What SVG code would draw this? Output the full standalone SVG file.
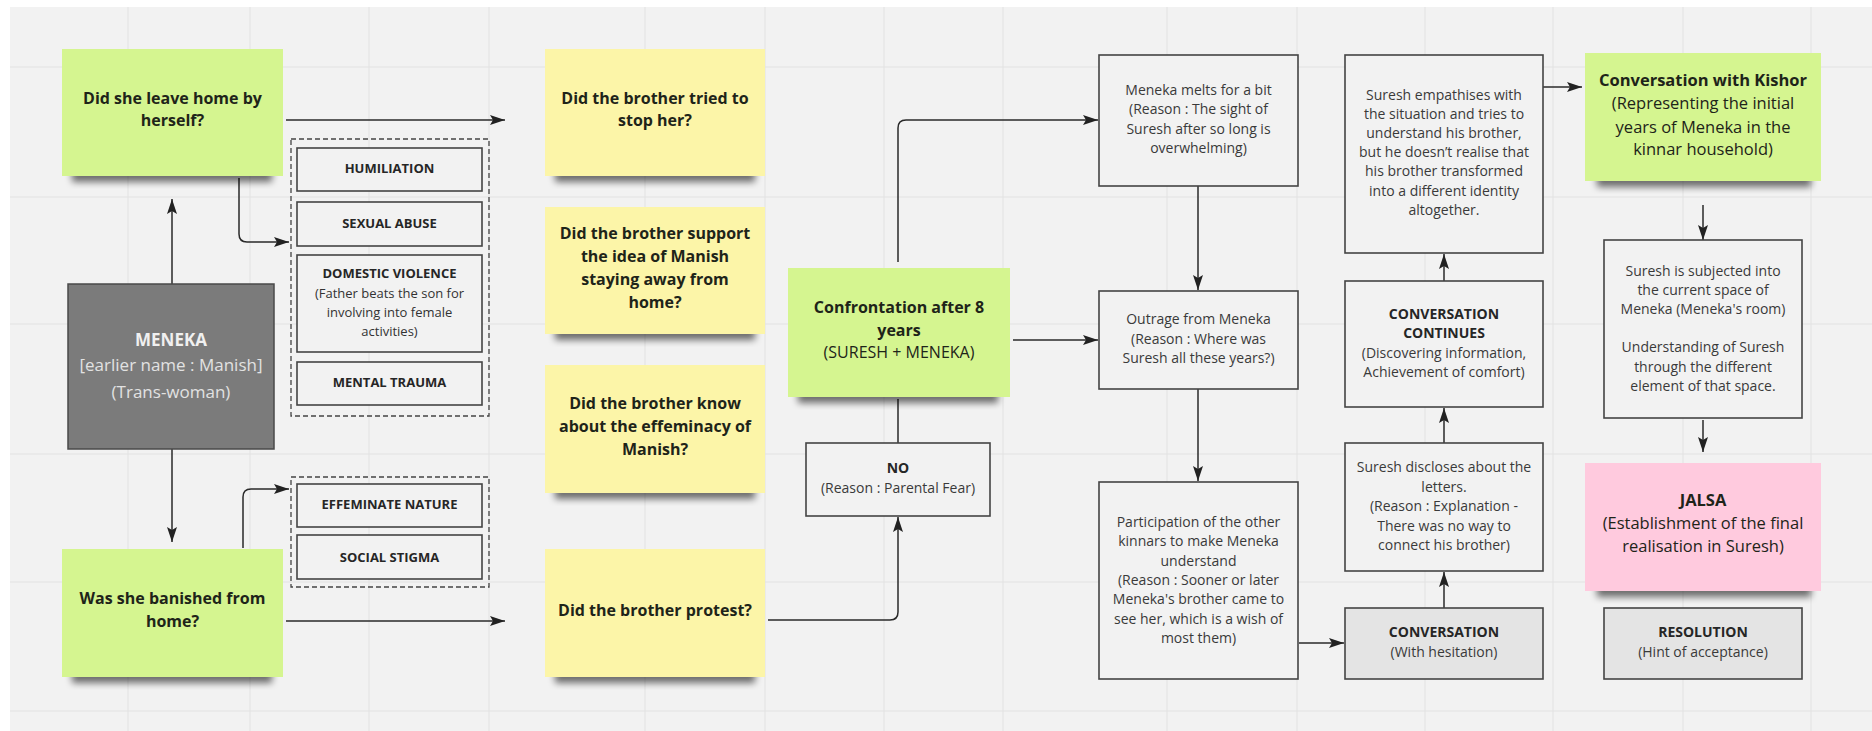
<svg xmlns="http://www.w3.org/2000/svg" width="1872" height="731" viewBox="0 0 1872 731">
<defs>
<marker id="ah" markerUnits="userSpaceOnUse" markerWidth="16" markerHeight="10" refX="15" refY="5" orient="auto">
<path d="M0,0 L15,5 L0,10 L3,5 Z" fill="#222"/>
</marker>
<filter id="sh" x="-20%" y="-50%" width="140%" height="200%">
<feGaussianBlur stdDeviation="3.5"/>
</filter>
<style>
.bg{fill:#f2f2f2}
.grid{stroke:#e2e2e2;stroke-width:1}
.shadow{fill:#000;opacity:0.55;filter:url(#sh)}
.green{fill:#d5f590}
.yellow{fill:#fcf5a8}
.pink{fill:#ffcade}
.box{fill:#f2f2f2;stroke:#444;stroke-width:1.6}
.gbox{fill:#e4e4e4;stroke:#444;stroke-width:1.6}
.dash{fill:none;stroke:#444;stroke-width:1.3;stroke-dasharray:5,3}
.dark{fill:#7b7b7b;stroke:#4a4a4a;stroke-width:1.5}
text{font-family:"Open Sans","Noto Sans","Liberation Sans",sans-serif;text-anchor:middle}
.st{font-size:16px;font-weight:bold;fill:#1e2419}
.sk{font-size:16.5px;font-weight:bold;fill:#1e2419}
.skr{font-size:16.5px;fill:#1e2419}
.str{font-size:16px;fill:#1e2419}
.lt{font-size:13px;fill:#333}
.lb{font-size:13px;font-weight:bold;fill:#262626}
.bt{font-size:14px;fill:#3a3a3a}
.bb{font-size:14px;font-weight:bold;fill:#262626}
.mk{font-size:17px;fill:#e2e2e2}
.mkb{font-size:17px;font-weight:bold;fill:#f0f0f0}
.cn{fill:none;stroke:#2a2a2a;stroke-width:1.5}
</style>
</defs>
<rect width="1872" height="731" fill="#ffffff"/>
<rect class="bg" x="10" y="7" width="1862" height="724"/>
<g id="grid">
<path class="grid" d="M128,7V731M250,7V731M369,7V731M489,7V731M645,7V731M765,7V731M884,7V731M1003,7V731M1167,7V731M1297,7V731M1425,7V731M1553,7V731M1683,7V731M1811,7V731"/>
<path class="grid" d="M10,67H1872M10,197H1872M10,324H1872M10,454H1872M10,582H1872M10,711H1872"/>
</g>

<g id="connectors">
<path class="cn" d="M286,120H505" marker-end="url(#ah)"/>
<path class="cn" d="M239,178V234Q239,242 247,242H289" marker-end="url(#ah)"/>
<path class="cn" d="M172,284V199" marker-end="url(#ah)"/>
<path class="cn" d="M172,449V542" marker-end="url(#ah)"/>
<path class="cn" d="M243,548V497Q243,489 251,489H289" marker-end="url(#ah)"/>
<path class="cn" d="M286,621H505" marker-end="url(#ah)"/>
<path class="cn" d="M898,262V128Q898,120 906,120H1098" marker-end="url(#ah)"/>
<path class="cn" d="M1013,340H1098" marker-end="url(#ah)"/>
<path class="cn" d="M898,399V443"/>
<path class="cn" d="M768,620H890Q898,620 898,612V517" marker-end="url(#ah)"/>
<path class="cn" d="M1198,186V290" marker-end="url(#ah)"/>
<path class="cn" d="M1198,389V481" marker-end="url(#ah)"/>
<path class="cn" d="M1299,643H1344" marker-end="url(#ah)"/>
<path class="cn" d="M1444,608V572" marker-end="url(#ah)"/>
<path class="cn" d="M1444,443V408" marker-end="url(#ah)"/>
<path class="cn" d="M1444,281V254" marker-end="url(#ah)"/>
<path class="cn" d="M1543,87H1582" marker-end="url(#ah)"/>
<path class="cn" d="M1703,205V240" marker-end="url(#ah)"/>
<path class="cn" d="M1703,420V452" marker-end="url(#ah)"/>
</g>

<g id="n-leave">
<rect class="shadow" x="72" y="168" width="200" height="14"/>
<rect class="green" x="62" y="49" width="221" height="127"/>
<text class="st" x="172.5" y="103.5">Did she leave home by</text>
<text class="st" x="172.5" y="125.5">herself?</text>
</g>
<g id="n-meneka">
<rect class="dark" x="68" y="284" width="206" height="165"/>
<text class="mkb" x="171" y="346">MENEKA</text>
<text class="mk" x="171" y="371">[earlier name : Manish]</text>
<text class="mk" x="171" y="398">(Trans-woman)</text>
</g>
<g id="n-banished">
<rect class="shadow" x="72" y="669" width="200" height="14"/>
<rect class="green" x="62" y="549" width="221" height="128"/>
<text class="st" x="172.5" y="603.5">Was she banished from</text>
<text class="st" x="172.5" y="626.5">home?</text>
</g>
<g id="n-reasons1">
<rect class="dash" x="291" y="139" width="198" height="277"/>
<rect class="box" x="297" y="148" width="185" height="43"/>
<text class="lb" x="389.5" y="172.5">HUMILIATION</text>
<rect class="box" x="297" y="202" width="185" height="44"/>
<text class="lb" x="389.5" y="227.5">SEXUAL ABUSE</text>
<rect class="box" x="297" y="255" width="185" height="97"/>
<text class="lb" x="389.5" y="277.5">DOMESTIC VIOLENCE</text>
<text class="lt" x="389.5" y="297.5">(Father beats the son for</text>
<text class="lt" x="389.5" y="316.5">involving into female</text>
<text class="lt" x="389.5" y="335.5">activities)</text>
<rect class="box" x="297" y="362" width="185" height="43"/>
<text class="lb" x="389.5" y="386.5">MENTAL TRAUMA</text>
</g>
<g id="n-reasons2">
<rect class="dash" x="291" y="477" width="198" height="110"/>
<rect class="box" x="297" y="484" width="185" height="43"/>
<text class="lb" x="389.5" y="508.5">EFFEMINATE NATURE</text>
<rect class="box" x="297" y="535" width="185" height="44"/>
<text class="lb" x="389.5" y="561.5">SOCIAL STIGMA</text>
</g>
<g id="n-q1">
<rect class="shadow" x="555" y="168" width="200" height="14"/>
<rect class="yellow" x="545" y="49" width="220" height="127"/>
<text class="st" x="655" y="103.5">Did the brother tried to</text>
<text class="st" x="655" y="125.5">stop her?</text>
</g>
<g id="n-q2">
<rect class="shadow" x="555" y="326" width="200" height="14"/>
<rect class="yellow" x="545" y="207" width="220" height="127"/>
<text class="st" x="655" y="238.5">Did the brother support</text>
<text class="st" x="655" y="261.5">the idea of Manish</text>
<text class="st" x="655" y="284.5">staying away from</text>
<text class="st" x="655" y="307.5">home?</text>
</g>
<g id="n-q3">
<rect class="shadow" x="555" y="485" width="200" height="14"/>
<rect class="yellow" x="545" y="365" width="220" height="128"/>
<text class="st" x="655" y="408.5">Did the brother know</text>
<text class="st" x="655" y="431.5">about the effeminacy of</text>
<text class="st" x="655" y="454.5">Manish?</text>
</g>
<g id="n-q4">
<rect class="shadow" x="555" y="669" width="200" height="14"/>
<rect class="yellow" x="545" y="549" width="220" height="128"/>
<text class="st" x="655" y="615.5">Did the brother protest?</text>
</g>
<g id="n-confront">
<rect class="shadow" x="798" y="389" width="200" height="14"/>
<rect class="green" x="788" y="268" width="222" height="129"/>
<text class="st" x="899" y="312.5">Confrontation after 8</text>
<text class="st" x="899" y="335.5">years</text>
<text class="str" x="899" y="357.5">(SURESH + MENEKA)</text>
</g>
<g id="n-no">
<rect class="box" x="806" y="443" width="184" height="73"/>
<text class="bb" x="898" y="473">NO</text>
<text class="bt" x="898" y="493">(Reason : Parental Fear)</text>
</g>
<g id="n-melts">
<rect class="box" x="1099" y="55" width="199" height="131"/>
<text class="bt" x="1198.5" y="95">Meneka melts for a bit</text>
<text class="bt" x="1198.5" y="114">(Reason : The sight of</text>
<text class="bt" x="1198.5" y="134">Suresh after so long is</text>
<text class="bt" x="1198.5" y="153">overwhelming)</text>
</g>
<g id="n-outrage">
<rect class="box" x="1099" y="291" width="199" height="98"/>
<text class="bt" x="1198.5" y="324">Outrage from Meneka</text>
<text class="bt" x="1198.5" y="344">(Reason : Where was</text>
<text class="bt" x="1198.5" y="363">Suresh all these years?)</text>
</g>
<g id="n-participation">
<rect class="box" x="1099" y="482" width="199" height="197"/>
<text class="bt" x="1198.5" y="527">Participation of the other</text>
<text class="bt" x="1198.5" y="546">kinnars to make Meneka</text>
<text class="bt" x="1198.5" y="566">understand</text>
<text class="bt" x="1198.5" y="585">(Reason : Sooner or later</text>
<text class="bt" x="1198.5" y="604">Meneka's brother came to</text>
<text class="bt" x="1198.5" y="624">see her, which is a wish of</text>
<text class="bt" x="1198.5" y="643">most them)</text>
</g>
<g id="n-empathises">
<rect class="box" x="1345" y="55" width="198" height="198"/>
<text class="bt" x="1444" y="100">Suresh empathises with</text>
<text class="bt" x="1444" y="119">the situation and tries to</text>
<text class="bt" x="1444" y="138">understand his brother,</text>
<text class="bt" x="1444" y="157">but he doesn’t realise that</text>
<text class="bt" x="1444" y="176">his brother transformed</text>
<text class="bt" x="1444" y="196">into a different identity</text>
<text class="bt" x="1444" y="215">altogether.</text>
</g>
<g id="n-continues">
<rect class="box" x="1345" y="281" width="198" height="126"/>
<text class="bb" x="1444" y="319">CONVERSATION</text>
<text class="bb" x="1444" y="338">CONTINUES</text>
<text class="bt" x="1444" y="358">(Discovering information,</text>
<text class="bt" x="1444" y="377">Achievement of comfort)</text>
</g>
<g id="n-discloses">
<rect class="box" x="1345" y="443" width="198" height="128"/>
<text class="bt" x="1444" y="472">Suresh discloses about the</text>
<text class="bt" x="1444" y="492">letters.</text>
<text class="bt" x="1444" y="511">(Reason : Explanation -</text>
<text class="bt" x="1444" y="531">There was no way to</text>
<text class="bt" x="1444" y="550">connect his brother)</text>
</g>
<g id="n-conversation">
<rect class="gbox" x="1345" y="608" width="198" height="71"/>
<text class="bb" x="1444" y="637">CONVERSATION</text>
<text class="bt" x="1444" y="657">(With hesitation)</text>
</g>
<g id="n-kishor">
<rect class="shadow" x="1597" y="173" width="214" height="14"/>
<rect class="green" x="1585" y="53" width="236" height="128"/>
<text class="sk" x="1703" y="86">Conversation with Kishor</text>
<text class="skr" x="1703" y="109">(Representing the initial</text>
<text class="skr" x="1703" y="133">years of Meneka in the</text>
<text class="skr" x="1703" y="155">kinnar household)</text>
</g>
<g id="n-subjected">
<rect class="box" x="1604" y="240" width="198" height="178"/>
<text class="bt" x="1703" y="276">Suresh is subjected into</text>
<text class="bt" x="1703" y="295">the current space of</text>
<text class="bt" x="1703" y="314">Meneka (Meneka's room)</text>
<text class="bt" x="1703" y="352">Understanding of Suresh</text>
<text class="bt" x="1703" y="372">through the different</text>
<text class="bt" x="1703" y="391">element of that space.</text>
</g>
<g id="n-jalsa">
<rect class="shadow" x="1597" y="583" width="214" height="14"/>
<rect class="pink" x="1585" y="463" width="236" height="128"/>
<text class="sk" x="1703" y="506">JALSA</text>
<text class="skr" x="1703" y="529">(Establishment of the final</text>
<text class="skr" x="1703" y="552">realisation in Suresh)</text>
</g>
<g id="n-resolution">
<rect class="gbox" x="1604" y="608" width="198" height="71"/>
<text class="bb" x="1703" y="637">RESOLUTION</text>
<text class="bt" x="1703" y="657">(Hint of acceptance)</text>
</g>
</svg>
